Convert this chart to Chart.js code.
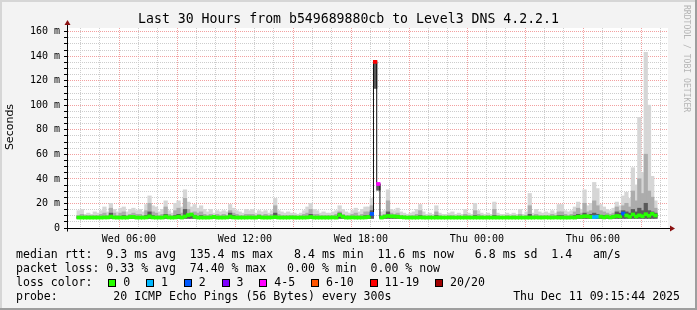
<!DOCTYPE html>
<html>
<head>
<meta charset="utf-8">
<script src="https://cdn.jsdelivr.net/npm/chart.js@4.4.1/dist/chart.umd.min.js"></script>
<style>
  html, body { margin: 0; padding: 0; background: #f3f3f3; }
  #frame { position: relative; width: 697px; height: 310px; background: #f3f3f3; overflow: hidden;
           font-family: 'DejaVu Sans Mono', monospace; color: #000; }
  #frame canvas { position: absolute; left: 0; top: 0; }
  .edge { position: absolute; }
  #title { position: absolute; left: 0; top: 11px; width: 697px; text-align: center;
           font-size: 13.2px; line-height: 15px; white-space: pre; }
  #ylabel { position: absolute; left: -40px; top: 120px; width: 100px; height: 14px; line-height: 14px;
            text-align: center; font-family: 'DejaVu Sans', sans-serif; font-size: 11px;
            transform: rotate(-90deg); }
  #mark { position: absolute; left: 682px; top: 5px; writing-mode: vertical-rl; font-size: 8.1px;
          line-height: 9px; color: #b4b4b4; white-space: pre; }
  #legend { position: absolute; left: 16px; top: 247px; font-size: 11.55px; line-height: 14px; white-space: pre; }
  #legend .sw { display: inline-block; width: 6px; height: 6px; border: 1px solid #000;
                margin-left: 15.8px; margin-right: 7px; vertical-align: -0.5px; }
  #stamp { position: absolute; right: 17px; top: 289px; font-size: 11.55px; line-height: 14px; white-space: pre; }
</style>
</head>
<body>
<div id="frame">
  <canvas id="chart" width="697" height="310"></canvas>
  <div class="edge" style="left:0;top:0;width:697px;height:2px;background:#d6d6d6"></div>
  <div class="edge" style="left:0;top:0;width:2px;height:310px;background:#d6d6d6"></div>
  <div class="edge" style="left:0;top:308px;width:697px;height:2px;background:#9e9e9e"></div>
  <div class="edge" style="left:695px;top:0;width:2px;height:310px;background:#9e9e9e"></div>
  <div id="title">Last 30 Hours from b549689880cb to Level3 DNS 4.2.2.1</div>
  <div id="ylabel">Seconds</div>
  <div id="mark">RRDTOOL / TOBI OETIKER</div>
  <div id="legend"></div>
  <div id="stamp">Thu Dec 11 09:15:44 2025</div>
</div>
<script>
// one sample every 10 minutes, hours counted from Wed 00:00
const firstSampleHour = 3.4;
const sampleStepHours = 1 / 6;

// median rtt (ms)
const median = [
  8.5,8.5,8.5,8.5,8.5,8.5,8.5,8.5,8.6,8.6, 9.3,8.6,8.5,8.5,8.5,8.5,9.0,9.0,8.5,8.5, 8.5,8.6,9.5,8.6,8.5,8.5,8.5,9.4,8.6,8.5,
  8.6,9.2,8.5,9.4,10.5,11,9.2,8.5,8.5,8.5, 8.5,8.6,9.1,8.5,8.5,8.5,8.6,9.3,8.6,8.5, 8.5,8.5,8.5,8.6,8.5,8.5,9.0,8.5,8.5,8.5,
  8.6,8.9,8.5,8.5,8.5,8.5,8.6,8.5,8.5,8.5, 8.5,8.6,9.0,8.5,8.5,8.5,8.5,8.5,8.5,8.6, 8.5,10.5,9.2,8.5,8.5,8.6,8.5,8.5,8.5,8.6,
  9.0,11.5,135.4,35.9,8.5,9.2,9.8,9.5,9.4,9.2, 8.8,8.6,8.5,8.5,8.5,8.5,8.6,8.5,8.5,8.5, 8.5,8.5,8.5,8.5,8.5,8.5,8.5,8.5,8.5,8.5,
  8.5,8.5,8.5,8.5,8.5,8.5,8.5,8.5,8.5,8.5, 8.5,8.5,8.5,8.5,8.5,8.5,8.5,8.5,8.5,8.5, 8.5,8.5,8.6,8.5,8.5,8.6,8.5,8.5,8.6,8.5,
  8.5,8.5,8.5,8.6,8.5,9.2,9.2,9.6,9.5,9.0, 8.9,9.2,9.3,8.6,9.3,8.6,9.2,9.8,9.5,11.8, 10.2,9.2,11.0,9.4,10.3,9.6,11.2,10.0,11.5,10.2
];

// lost pings per sample, as index into lossLabels
const lossLevel = [
  0,0,0,0,0,0,0,0,0,0, 0,0,0,0,0,0,0,0,0,0, 0,0,0,0,0,0,0,0,0,0,
  0,0,0,0,0,0,0,0,0,0, 0,0,0,0,0,0,0,0,0,0, 0,0,0,0,0,0,0,0,0,0,
  0,0,0,0,0,0,0,0,0,0, 0,0,0,0,0,0,0,0,0,0, 0,0,0,0,0,0,0,0,0,0,
  0,2,6,4,0,0,0,0,0,0, 0,0,0,0,0,0,0,0,0,0, 0,0,0,0,0,0,0,0,0,0,
  0,0,0,0,0,0,0,0,0,0, 0,0,0,0,0,0,0,0,0,0, 0,0,0,0,0,0,0,0,0,0,
  0,0,0,0,0,0,0,0,0,0, 1,1,0,0,0,0,0,0,0,2, 0,0,0,0,0,0,0,0,0,0
];

// smoke: fastest ping, inner (dark) band top, middle band top, slowest ping
const smokeLow = [
  8,8,8,8,8,8,8,8,8,8, 8,8,8,8,8,8,8,8,8,8, 8,8,8,8,8,8,8,8,8,8,
  8,8,8,8,8,8,8,8,8,8, 8,8,8,8,8,8,8,8,8,8, 8,8,8,8,8,8,8,8,8,8,
  8,8,8,8,8,8,8,8,8,8, 8,8,8,8,8,8,8,8,8,8, 8,8,8,8,8,8,8,8,8,8,
  8,8,114,31,8,8,8,8,8,8, 8,8,8,8,8,8,8,8,8,8, 8,8,8,8,8,8,8,8,8,8,
  8,8,8,8,8,8,8,8,8,8, 8,8,8,8,8,8,8,8,8,8, 8,8,8,8,8,8,8,8,8,8,
  8,8,8,8,8,8,8,8,8,8, 8,8,8,8,8,8,8,8,8,8, 8,8,8,8,8,8,8,8,8,8
];
const smokeDark = [
  9,9,9,9,9,9,9,9,9,9, 12,9,9,9,10,9,9,9,9,9, 9,10,13,10,9,9,9,11,9,9,
  10,11,9,15,11,10,10,9,10,9, 9,9,9,9,9,9,9,12,10,9, 9,9,9,9,9,9,9,9,9,9,
  9,12,9,9,9,9,9,9,9,9, 9,9,11,9,9,9,9,9,9,9, 9,12,9,9,9,9,9,9,9,10,
  10,14,136,36,9,9,13,10,9,10, 9,9,9,9,9,9,10,9,9,9, 9,10,9,9,9,9,9,9,9,9,
  9,9,9,10,9,9,9,9,9,10, 9,9,9,9,9,9,9,9,9,9, 11,9,9,9,9,9,9,9,9,10,
  10,9,9,9,10,11,10,12,10,11, 12,11,10,10,9,9,10,13,12,14, 13,12,15,13,16,14,20,14,13,12
];
const smokeMid = [
  10,11,10,10,10,10,10,11,12,10, 16,12,10,12,13,10,11,12,11,11, 10,14,20,13,12,10,11,17,11,10,
  14,16,12,24,15,12,13,12,13,11, 10,11,10,11,10,11,10,14,12,11, 10,10,11,11,11,10,11,10,11,10,
  11,18,11,10,10,10,10,10,9,10, 11,12,15,11,11,10,10,10,10,10, 11,13,11,10,10,11,12,10,11,13,
  13,18,136,36,10,11,22,12,11,12, 10,10,9,10,10,11,14,10,9,10, 9,13,10,9,9,10,10,9,10,9,
  11,10,9,14,11,10,9,10,9,15, 10,9,9,10,9,10,9,11,9,10, 18,10,11,10,10,10,10,11,10,13,
  13,11,10,11,13,16,12,20,13,14, 22,18,14,13,12,11,12,17,14,18, 20,17,30,22,40,28,60,30,25,16
];
const smokeHigh = [
  14,15,11,12,11,13,12,14,17,13, 20,15,13,16,17,13,15,16,14,15, 13,19,26,18,17,13,15,22,14,12,
  20,22,17,31,21,17,19,16,18,15, 13,15,12,14,13,14,13,19,16,14, 13,12,15,14,15,12,14,13,14,12,
  14,24,14,13,12,13,12,12,11,12, 14,17,20,15,14,12,13,12,12,13, 14,18,15,13,12,14,16,13,15,17,
  17,24,136,36,13,14,31,15,14,16, 13,12,11,12,13,15,19,13,11,12, 11,18,12,11,11,12,13,11,12,11,
  15,12,11,20,14,12,11,12,11,21, 12,11,11,12,11,12,11,15,11,13, 28,12,15,13,12,13,12,14,12,19,
  19,14,13,14,17,21,15,31,18,20, 37,32,19,17,15,14,16,21,18,26, 29,24,49,35,90,45,143,100,42,22
];

const lossLabels = ['0', '1', '2', '3', '4-5', '6-10', '11-19', '20/20'];
const lossColors = ['#26ff00', '#00b8ff', '#0059ff', '#7e00ff', '#ff00ff', '#ff5500', '#ff0000', '#a00000'];

const xTickHours = [6, 12, 18, 24, 30];
const xTickLabels = ['Wed 06:00', 'Wed 12:00', 'Wed 18:00', 'Thu 00:00', 'Thu 06:00'];
const yTickValues = [0, 20, 40, 60, 80, 100, 120, 140, 160];
const yTickLabels = ['0', '20 m', '40 m', '60 m', '80 m', '100 m', '120 m', '140 m', '160 m'];

const legendLines = [
  'median rtt:  9.3 ms avg  135.4 ms max   8.4 ms min  11.6 ms now   6.8 ms sd  1.4   am/s',
  'packet loss: 0.33 % avg  74.40 % max   0.00 % min  0.00 % now'
];
const probeLine = 'probe:        20 ICMP Echo Pings (56 Bytes) every 300s';

// legend text
let html = legendLines.join('\n') + '\nloss color:';
lossLabels.forEach((l, i) => {
  html += '<span class="sw" style="background:' + lossColors[i] + '"></span>' + l;
});
html += '\n' + probeLine;
document.getElementById('legend').innerHTML = html;

const xs = median.map((_, i) => firstSampleHour + i * sampleStepHours);
const band = (lo, hi) => xs.map((x, i) => ({ x: x, y: [lo[i], hi[i]] }));

const MAJOR = '#f2a0a0';
const MINOR = '#cdcdcd';
const ARROW = '#8a1010';

const rrdDecor = {
  id: 'rrdDecor',
  beforeDraw(chart) {
    const a = chart.chartArea, c = chart.ctx;
    c.save();
    c.fillStyle = '#ffffff';
    c.fillRect(a.left, a.top, a.right - a.left, a.bottom - a.top);
    c.restore();
  },
  afterDraw(chart) {
    const a = chart.chartArea, c = chart.ctx;
    const x0 = Math.round(a.left) + 0.5, y0 = Math.round(a.bottom) + 0.5;
    c.save();
    c.strokeStyle = '#000';
    c.lineWidth = 1;
    c.beginPath();
    c.moveTo(x0, y0 + 3); c.lineTo(x0, a.top - 4);
    c.moveTo(x0 - 3, y0); c.lineTo(a.right + 3, y0);
    c.stroke();
    c.fillStyle = ARROW;
    c.beginPath();
    c.moveTo(x0, a.top - 8); c.lineTo(x0 - 3, a.top - 3); c.lineTo(x0 + 3, a.top - 3); c.closePath();
    c.fill();
    c.beginPath();
    c.moveTo(a.right + 7, y0); c.lineTo(a.right + 2, y0 - 3); c.lineTo(a.right + 2, y0 + 3); c.closePath();
    c.fill();
    c.restore();
  }
};

const barDefaults = { type: 'bar', grouped: false, barPercentage: 1, categoryPercentage: 1,
                      borderWidth: 0, inflateAmount: 0.5 };

new Chart(document.getElementById('chart'), {
  type: 'bar',
  data: {
    datasets: [
      Object.assign({}, barDefaults, {
        label: 'loss',
        data: xs.map((x, i) => ({ x: x, y: [median[i] - 1.1, median[i] + 1.1] })),
        backgroundColor: lossLevel.map(l => lossColors[l]),
        order: 0
      }),
      {
        type: 'line',
        label: 'median',
        data: xs.map((x, i) => ({ x: x, y: median[i] })),
        borderColor: '#111',
        borderWidth: 1,
        pointRadius: 0,
        stepped: 'middle',
        order: 1
      },
      Object.assign({}, barDefaults, { label: 'smoke dark', data: band(smokeLow, smokeDark), backgroundColor: '#5a5a5a', order: 2 }),
      Object.assign({}, barDefaults, { label: 'smoke mid', data: band(smokeLow, smokeMid), backgroundColor: '#acacac', order: 3 }),
      Object.assign({}, barDefaults, { label: 'smoke', data: band(smokeLow, smokeHigh), backgroundColor: '#d6d6d6', order: 4 })
    ]
  },
  options: {
    responsive: false,
    animation: false,
    devicePixelRatio: 1,
    layout: { padding: { left: 0, right: 29, top: 28, bottom: 0 } },
    plugins: { legend: { display: false }, tooltip: { enabled: false }, title: { display: false } },
    scales: {
      x: {
        type: 'linear',
        min: 3.315,
        max: 33.365,
        afterFit: (s) => { s.height = 82; },
        afterBuildTicks: (s) => {
          const t = [];
          for (let h = 4; h <= 33; h++) t.push({ value: h });
          s.ticks = t;
        },
        grid: {
          color: (c) => (c.tick && c.tick.value % 3 === 0 ? MAJOR : MINOR),
          drawTicks: false
        },
        border: { display: true, color: '#000', dash: [1, 1] },
        ticks: {
          autoSkip: false,
          maxRotation: 0,
          padding: 5,
          color: '#000',
          font: { family: 'DejaVu Sans Mono', size: 10 },
          callback: (v) => {
            const k = xTickHours.indexOf(v);
            return k >= 0 ? xTickLabels[k] : '';
          }
        }
      },
      y: {
        min: 0,
        max: 163,
        afterFit: (s) => { s.width = 67; },
        afterBuildTicks: (s) => {
          const t = [];
          for (let v = 0; v <= 160; v += 5) t.push({ value: v });
          s.ticks = t;
        },
        grid: {
          color: (c) => (c.tick && c.tick.value % 20 === 0 ? MAJOR : MINOR),
          tickColor: '#000',
          tickLength: 3
        },
        border: { display: true, color: '#000', dash: [1, 1] },
        ticks: {
          autoSkip: false,
          padding: 4,
          color: '#000',
          font: { family: 'DejaVu Sans Mono', size: 10 },
          callback: (v) => {
            const k = yTickValues.indexOf(v);
            return k >= 0 ? yTickLabels[k] : '';
          }
        }
      }
    }
  },
  plugins: [rrdDecor]
});
</script>
</body>
</html>
